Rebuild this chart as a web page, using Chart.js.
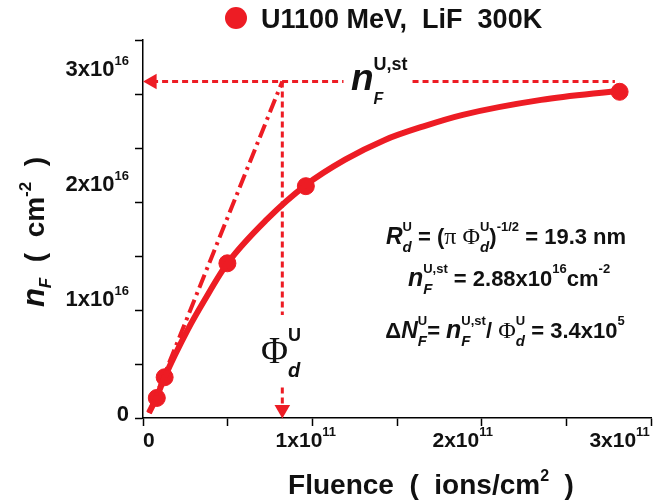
<!DOCTYPE html>
<html>
<head>
<meta charset="utf-8">
<script src="https://cdn.jsdelivr.net/npm/chart.js@4/dist/chart.umd.min.js"></script>
<style>
  body { margin: 0; background: #fff; }
  #wrap { width: 653px; height: 504px; }
</style>
</head>
<body>
<div id="wrap"><canvas id="chart" width="653" height="504"></canvas></div>
<script>
// measured points (fluence in ions/cm2, n_F in cm-2)
var fluence = [0.05e11, 0.1e11, 0.5e11, 1.0e11, 3.0e11];
var nF = [0.13e16, 0.31e16, 1.30e16, 1.97e16, 2.79e16];

// fitted curve
var fitX = [0, 0.05e11, 0.1e11, 0.25e11, 0.35e11, 0.5e11, 0.75e11, 1.0e11, 1.25e11, 1.5e11, 1.75e11, 2.0e11, 2.5e11, 3.0e11];
var fitY = [0, 0.14e16, 0.31e16, 0.73e16, 0.97e16, 1.30e16, 1.68e16, 1.98e16, 2.20e16, 2.37e16, 2.49e16, 2.59e16, 2.72e16, 2.80e16];

// saturation level and characteristic fluence
var nSat = 2.88e16;
var phiD = 0.85e11;

var xTickVals = [0, 1e11, 2e11, 3e11];
var xTickBase = ['0', '1x10', '2x10', '3x10'];
var xTickExp = ['', '11', '11', '11'];
var yTickVals = [0, 1e16, 2e16, 3e16];
var yTickBase = ['0', '1x10', '2x10', '3x10'];
var yTickExp = ['', '16', '16', '16'];

var legendLabel = 'U1100 MeV,  LiF  300K';
var red = '#ed1c24';

function B(s) { return 'bold ' + s + 'px "Liberation Sans"'; }
function BI(s) { return 'italic bold ' + s + 'px "Liberation Sans"'; }
function SER(s) { return s + 'px "Liberation Serif"'; }

// draw a row of text pieces; a piece is either {t,f,dy} or a stacked {sub,sup,...}
function rich(ctx, x, y, parts, align) {
  var w = 0, widths = [];
  parts.forEach(function (p) {
    var pw;
    if (p.t !== undefined) {
      ctx.font = p.f; pw = ctx.measureText(p.t).width;
    } else {
      ctx.font = p.subF; var a = p.sub ? ctx.measureText(p.sub).width : 0;
      ctx.font = p.supF; var b = p.sup ? ctx.measureText(p.sup).width : 0;
      pw = Math.max(a, b);
    }
    widths.push(pw); w += pw;
  });
  var cx = x;
  if (align === 'center') cx = x - w / 2;
  if (align === 'right') cx = x - w;
  ctx.textAlign = 'left';
  ctx.textBaseline = 'alphabetic';
  parts.forEach(function (p, i) {
    if (p.t !== undefined) {
      ctx.font = p.f; ctx.fillText(p.t, cx, y + (p.dy || 0));
    } else {
      if (p.sub) { ctx.font = p.subF; ctx.fillText(p.sub, cx, y + p.subDy); }
      if (p.sup) { ctx.font = p.supF; ctx.fillText(p.sup, cx, y + p.supDy); }
    }
    cx += widths[i];
  });
  return w;
}

function stack(sub, sup, subF, supF, subDy, supDy) {
  return { sub: sub, sup: sup, subF: subF, supF: supF, subDy: subDy, supDy: supDy };
}

var textPlugin = {
  id: 'texts',
  afterDraw: function (chart) {
    var ctx = chart.ctx;
    var xs = chart.scales.x, ys = chart.scales.y;
    ctx.save();
    ctx.fillStyle = '#111';

    // tick labels
    yTickVals.forEach(function (v, i) {
      var py = ys.getPixelForValue(v);
      var parts = [{ t: yTickBase[i], f: B(22) }];
      if (yTickExp[i]) parts.push({ t: yTickExp[i], f: B(13), dy: -11 });
      rich(ctx, 129, py + 8, parts, 'right');
    });
    xTickVals.forEach(function (v, i) {
      var px = xs.getPixelForValue(v);
      var parts = [{ t: xTickBase[i], f: B(21) }];
      if (xTickExp[i]) parts.push({ t: xTickExp[i], f: B(13), dy: -11 });
      rich(ctx, px, 447, parts, 'center');
    });

    // axis titles
    rich(ctx, 431, 494, [
      { t: 'Fluence  (  ions/cm', f: B(28) },
      { t: '2', f: B(16), dy: -13 },
      { t: '  )', f: B(28) }
    ], 'center');

    ctx.save();
    ctx.translate(44, 232);
    ctx.rotate(-Math.PI / 2);
    rich(ctx, 0, 0, [
      { t: 'n', f: BI(31) },
      { t: 'F', f: BI(17), dy: 7 },
      { t: '  (  cm', f: B(28) },
      { t: '-2', f: B(17), dy: -13 },
      { t: '  )', f: B(28) }
    ], 'center');
    ctx.restore();

    // legend
    ctx.fillStyle = red;
    ctx.beginPath();
    ctx.arc(236, 18, 11, 0, Math.PI * 2);
    ctx.fill();
    ctx.fillStyle = '#111';
    ctx.font = B(27);
    ctx.fillText(legendLabel, 261, 28);

    // n_F^{U,st} label on the saturation arrow
    rich(ctx, 351, 90, [
      { t: 'n', f: BI(37) },
      stack('F', 'U,st', BI(16), B(18), 14, -20)
    ], 'left');

    // Phi_d^U label on the vertical arrow
    rich(ctx, 261, 363, [
      { t: '\u03A6', f: SER(37) },
      stack('d', 'U', BI(20), B(18), 14, -22)
    ], 'left');

    // formulas
    var big = B(22), sm = B(13), it = BI(23), sub = BI(15);
    rich(ctx, 506, 244, [
      { t: 'R', f: it },
      stack('d', 'U', sub, sm, 8, -13),
      { t: ' = (', f: big },
      { t: '\u03C0 \u03A6', f: SER(24) },
      stack('d', 'U', sub, sm, 8, -13),
      { t: ')', f: big },
      { t: '-1/2', f: sm, dy: -13 },
      { t: ' = 19.3 nm', f: big }
    ], 'center');
    rich(ctx, 509, 286, [
      { t: 'n', f: BI(25) },
      stack('F', 'U,st', sub, sm, 8, -13),
      { t: ' = 2.88x10', f: big },
      { t: '16', f: sm, dy: -13 },
      { t: 'cm', f: big },
      { t: '-2', f: sm, dy: -13 }
    ], 'center');
    rich(ctx, 505, 338, [
      { t: '\u0394', f: big },
      { t: 'N', f: it },
      stack('F', 'U', sub, sm, 8, -13),
      { t: '= ', f: big },
      { t: 'n', f: BI(25) },
      stack('F', 'U,st', sub, sm, 8, -13),
      { t: '/ ', f: big },
      { t: '\u03A6', f: SER(24) },
      stack('d', 'U', sub, sm, 8, -13),
      { t: ' = 3.4x10', f: big },
      { t: '5', f: sm, dy: -13 }
    ], 'center');

    ctx.restore();
  }
};

function pts(xa, ya) {
  return xa.map(function (x, i) { return { x: x, y: ya[i] }; });
}

var dashOpts = { borderColor: red, borderWidth: 3, borderDash: [6, 4], showLine: true,
  backgroundColor: red, pointBorderWidth: 0, clip: false };

new Chart(document.getElementById('chart'), {
  type: 'scatter',
  data: {
    datasets: [
      Object.assign({}, dashOpts, {
        data: [{ x: 0.02e11, y: nSat }, { x: 1.24e11, y: nSat }],
        pointRadius: [9, 0], pointStyle: 'triangle', pointRotation: -90
      }),
      Object.assign({}, dashOpts, {
        data: [{ x: 1.68e11, y: nSat }, { x: 2.97e11, y: nSat }],
        pointRadius: 0
      }),
      Object.assign({}, dashOpts, {
        data: [{ x: phiD, y: nSat }, { x: phiD, y: 0.85e16 }],
        pointRadius: 0
      }),
      Object.assign({}, dashOpts, {
        data: [{ x: phiD, y: 0.22e16 }, { x: phiD, y: 0.03e16 }],
        pointRadius: [0, 9], pointStyle: 'triangle', pointRotation: 180
      }),
      {
        data: [{ x: 0, y: 0 }, { x: phiD, y: nSat }],
        showLine: true, borderColor: red, borderWidth: 4,
        borderDash: [14, 5, 3, 5], pointRadius: 0
      },
      {
        data: pts(fitX, fitY),
        showLine: true, borderColor: red, borderWidth: 6,
        cubicInterpolationMode: 'monotone', pointRadius: 0
      },
      {
        label: legendLabel,
        data: pts(fluence, nF),
        backgroundColor: red, borderColor: red,
        pointRadius: 8.5, pointHoverRadius: 8.5, clip: false
      }
    ]
  },
  plugins: [textPlugin],
  options: {
    responsive: false,
    animation: false,
    events: [],
    layout: { autoPadding: false, padding: { left: 135, top: 40, right: 2, bottom: 78 } },
    plugins: { legend: { display: false }, tooltip: { enabled: false } },
    scales: {
      x: {
        type: 'linear', min: -0.038e11, max: 3.2e11,
        ticks: { display: false, stepSize: 0.5e11, includeBounds: false },
        grid: { drawOnChartArea: false, drawTicks: true, tickLength: 8, color: '#000', tickWidth: 1.5 },
        border: { color: '#000', width: 1.5 }
      },
      y: {
        type: 'linear', min: -0.044e16, max: 3.24e16,
        ticks: { display: false, stepSize: 0.5e16, includeBounds: false },
        grid: { drawOnChartArea: false, drawTicks: true, tickLength: 8, color: '#000', tickWidth: 1.5 },
        border: { color: '#000', width: 1.5 }
      }
    }
  }
});
</script>
</body>
</html>
